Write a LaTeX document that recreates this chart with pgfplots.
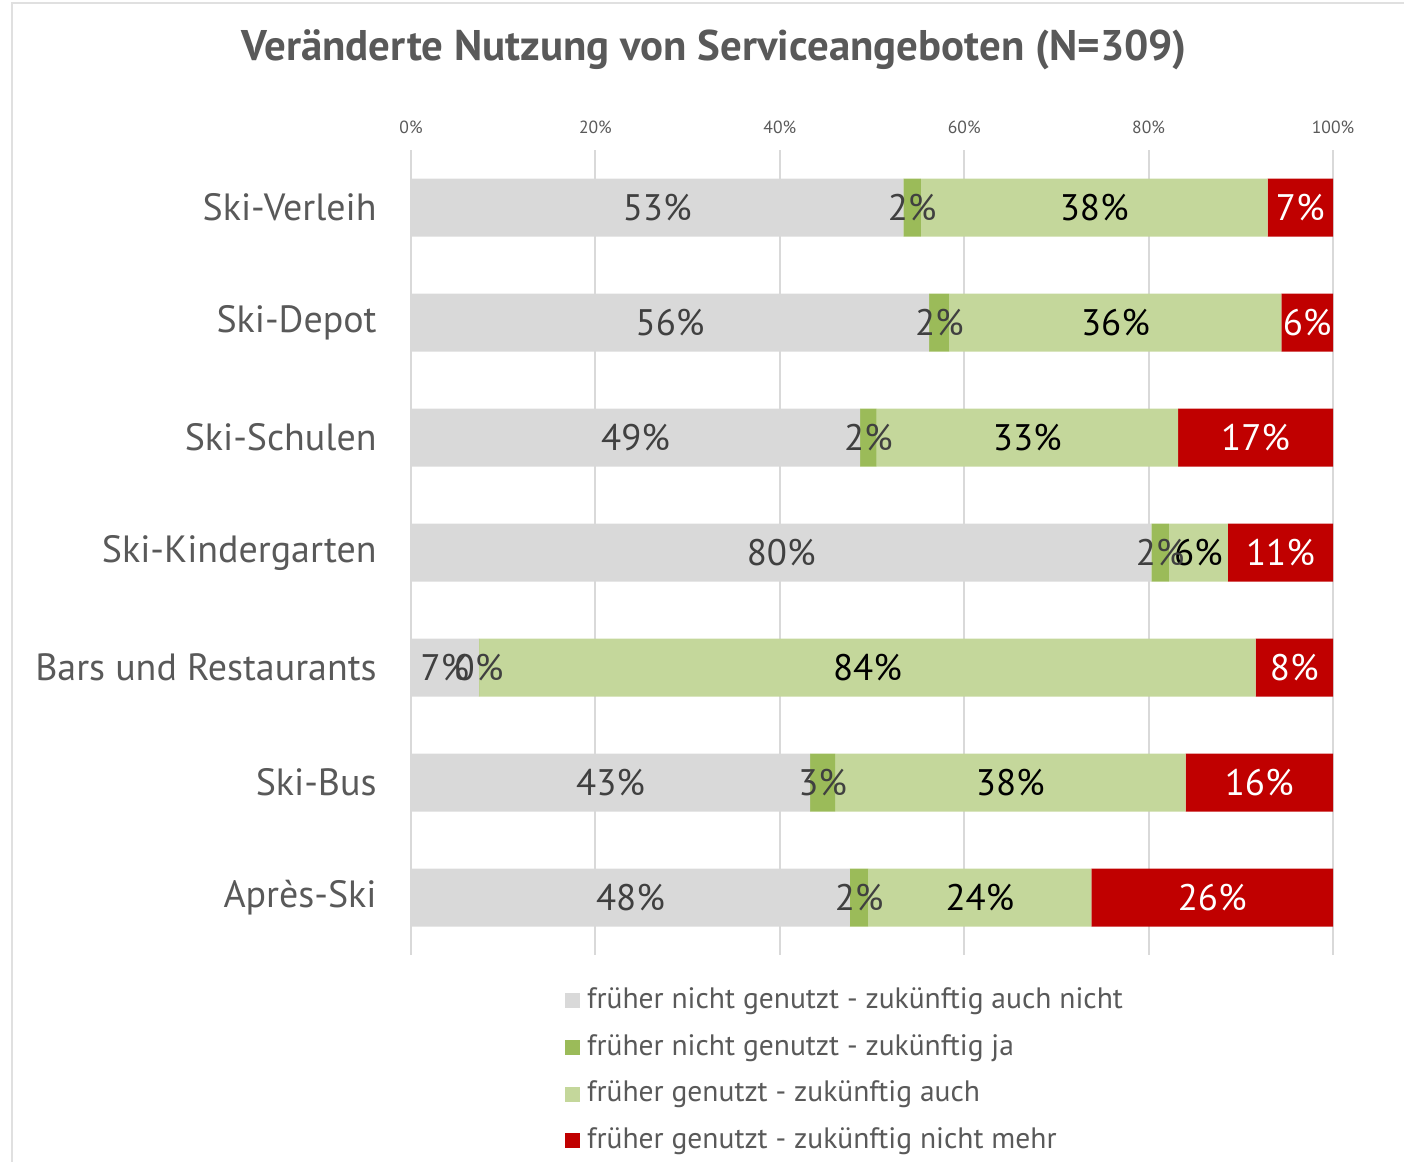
\documentclass[border=0pt]{standalone}
\usepackage{pgfplots}
\pgfplotsset{compat=1.18}
\usepackage{fontspec}
\setmainfont{PT Sans}
\definecolor{greyBar}{HTML}{D9D9D9}
\definecolor{darkGreen}{HTML}{9BBB59}
\definecolor{lightGreen}{HTML}{C4D79B}
\definecolor{redBar}{HTML}{C00000}
\definecolor{textGrey}{HTML}{595959}
\definecolor{labelGrey}{HTML}{404040}

\begin{document}
\begin{tikzpicture}
\path[use as bounding box] (0,0) rectangle (14.04,-11.62);
\draw[black!12] (0.12,-11.62) -- (0.12,-0.03) -- (14.04,-0.03);
\begin{axis}[
    at={(4.11cm,-1.50cm)}, anchor=north west,
    scale only axis, width=9.22cm, height=8.05cm,
    xbar stacked, bar width=0.58cm,
    xmin=0, xmax=100, ymin=-0.5, ymax=6.5, y dir=reverse,
    ytick={0,...,6},
    yticklabels={Ski-Verleih, Ski-Depot, Ski-Schulen, Ski-Kindergarten, Bars und Restaurants, Ski-Bus, Après-Ski},
    yticklabel style={font=\fontsize{10.8}{12}\selectfont, text=textGrey, xshift=-0.22cm},
    xtick={0,20,...,100},
    xticklabel={\pgfmathprintnumber{\tick}\%},
    xticklabel pos=upper,
    xticklabel style={font=\fontsize{5}{6}\selectfont, text=textGrey, yshift=0.04cm},
    /pgf/number format/assume math mode=true,
    axis line style={draw=none}, major tick style={draw=none},
    xmajorgrids, grid style={draw=greyBar, line width=0.6pt},
    title={Veränderte Nutzung von Serviceangeboten (N=309)},
    title style={font=\bfseries\fontsize{12.2}{14}\selectfont, text=textGrey, at={(0.329,1)}, anchor=south, yshift=0.47cm},
    point meta=rawx,
    nodes near coords={\pgfmathprintnumber[fixed,precision=0]{\pgfplotspointmeta}\%},
    nodes near coords style={font=\fontsize{10.5}{12}\selectfont},
    legend style={at={(0.155,-0.022)}, anchor=north west, draw=none, fill=none,
        font=\fontsize{8.4}{10}\selectfont, text=textGrey, row sep=0.065cm,
        legend cell align=left},
    legend image code/.code={\fill (0cm,-0.075cm) rectangle (0.15cm,0.075cm);},
]
% früher nicht genutzt - zukünftig auch nicht
\addplot[fill=greyBar, draw=none, every node near coord/.append style={text=labelGrey}]
  coordinates {(53.4,0) (56.2,1) (48.7,2) (80.3,3) (7.35,4) (43.3,5) (47.6,6)};
\addlegendentry{früher nicht genutzt - zukünftig auch nicht}
% früher nicht genutzt - zukünftig ja
\addplot[fill=darkGreen, draw=none, every node near coord/.append style={text=labelGrey}]
  coordinates {(1.9,0) (2.2,1) (1.8,2) (1.9,3) (0.05,4) (2.7,5) (2.0,6)};
\addlegendentry{früher nicht genutzt - zukünftig ja}
% früher genutzt - zukünftig auch
\addplot[fill=lightGreen, draw=none, every node near coord/.append style={text=black}]
  coordinates {(37.6,0) (36.0,1) (32.7,2) (6.4,3) (84.2,4) (38.0,5) (24.2,6)};
\addlegendentry{früher genutzt - zukünftig auch}
% früher genutzt - zukünftig nicht mehr
\addplot[fill=redBar, draw=none, every node near coord/.append style={text=white}]
  coordinates {(7.1,0) (5.6,1) (16.8,2) (11.4,3) (8.4,4) (16.0,5) (26.2,6)};
\addlegendentry{früher genutzt - zukünftig nicht mehr}
\end{axis}
\end{tikzpicture}
\end{document}
